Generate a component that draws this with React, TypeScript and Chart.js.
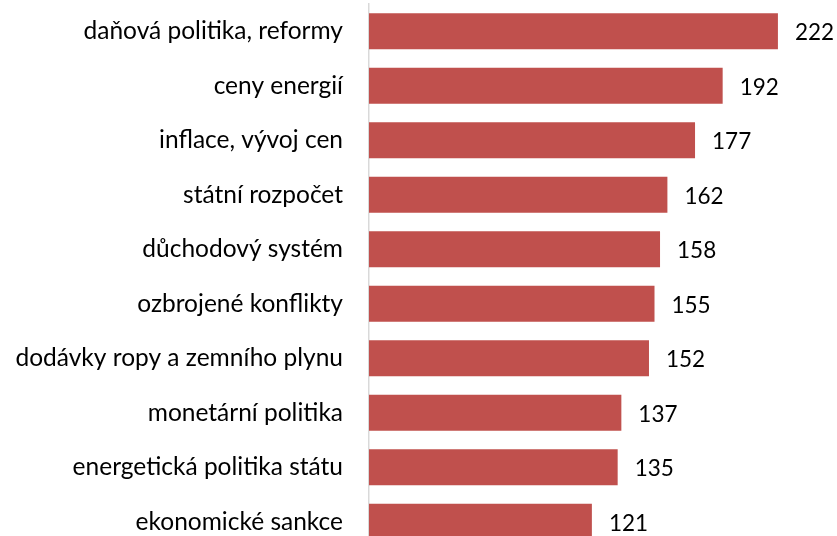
import React, { useEffect, useRef } from "react";
import { Chart, registerables } from "chart.js";

Chart.register(...registerables);

const categories = [
  "daňová politika, reformy",
  "ceny energií",
  "inflace, vývoj cen",
  "státní rozpočet",
  "důchodový systém",
  "ozbrojené konflikty",
  "dodávky ropy a zemního plynu",
  "monetární politika",
  "energetická politika státu",
  "ekonomické sankce",
];
const values = [222, 192, 177, 162, 158, 155, 152, 137, 135, 121];

const FONT = "Lato, 'Open Sans', sans-serif";

const valueLabels = {
  id: "valueLabels",
  afterDatasetsDraw(chart: any) {
    const ctx = chart.ctx;
    const meta = chart.getDatasetMeta(0);
    ctx.save();
    ctx.font = `22.5px ${FONT}`;
    ctx.fillStyle = "#000";
    ctx.textAlign = "left";
    ctx.textBaseline = "middle";
    meta.data.forEach((bar: any, i: number) => {
      ctx.fillText(String(values[i]), bar.x + 17, bar.y + 1.5);
    });
    ctx.restore();
  },
};

export default function App() {
  const ref = useRef<HTMLCanvasElement>(null);
  useEffect(() => {
    if (!ref.current) return;
    const chart = new Chart(ref.current, {
      type: "bar",
      data: {
        labels: categories,
        datasets: [
          {
            data: values,
            backgroundColor: "#C0504D",
            borderWidth: 0,
            barPercentage: 0.66,
            categoryPercentage: 1,
          },
        ],
      },
      options: {
        indexAxis: "y",
        animation: false,
        responsive: false,
        maintainAspectRatio: false,
        layout: { padding: { top: 4, bottom: 4, right: 7.5, left: 0 } },
        plugins: { legend: { display: false }, tooltip: { enabled: false } },
        scales: {
          x: { display: false, min: 0, max: 250 },
          y: {
            afterFit(scale: any) {
              scale.width = 369;
              scale.paddingTop = 0;
              scale.paddingBottom = 0;
            },
            grid: { display: false, drawTicks: false },
            border: { display: true, color: "#D9D9D9", width: 1.5 },
            ticks: {
              padding: 26,
              color: "#000",
              font: { family: FONT, size: 24.5 },
            },
          },
        },
      },
      plugins: [valueLabels],
    });
    return () => chart.destroy();
  }, []);
  return (
    <div style={{ position: "absolute", left: 0, top: 0, width: 837, height: 553 }}>
      <canvas ref={ref} width={837} height={553} style={{ width: 837, height: 553 }} />
    </div>
  );
}
